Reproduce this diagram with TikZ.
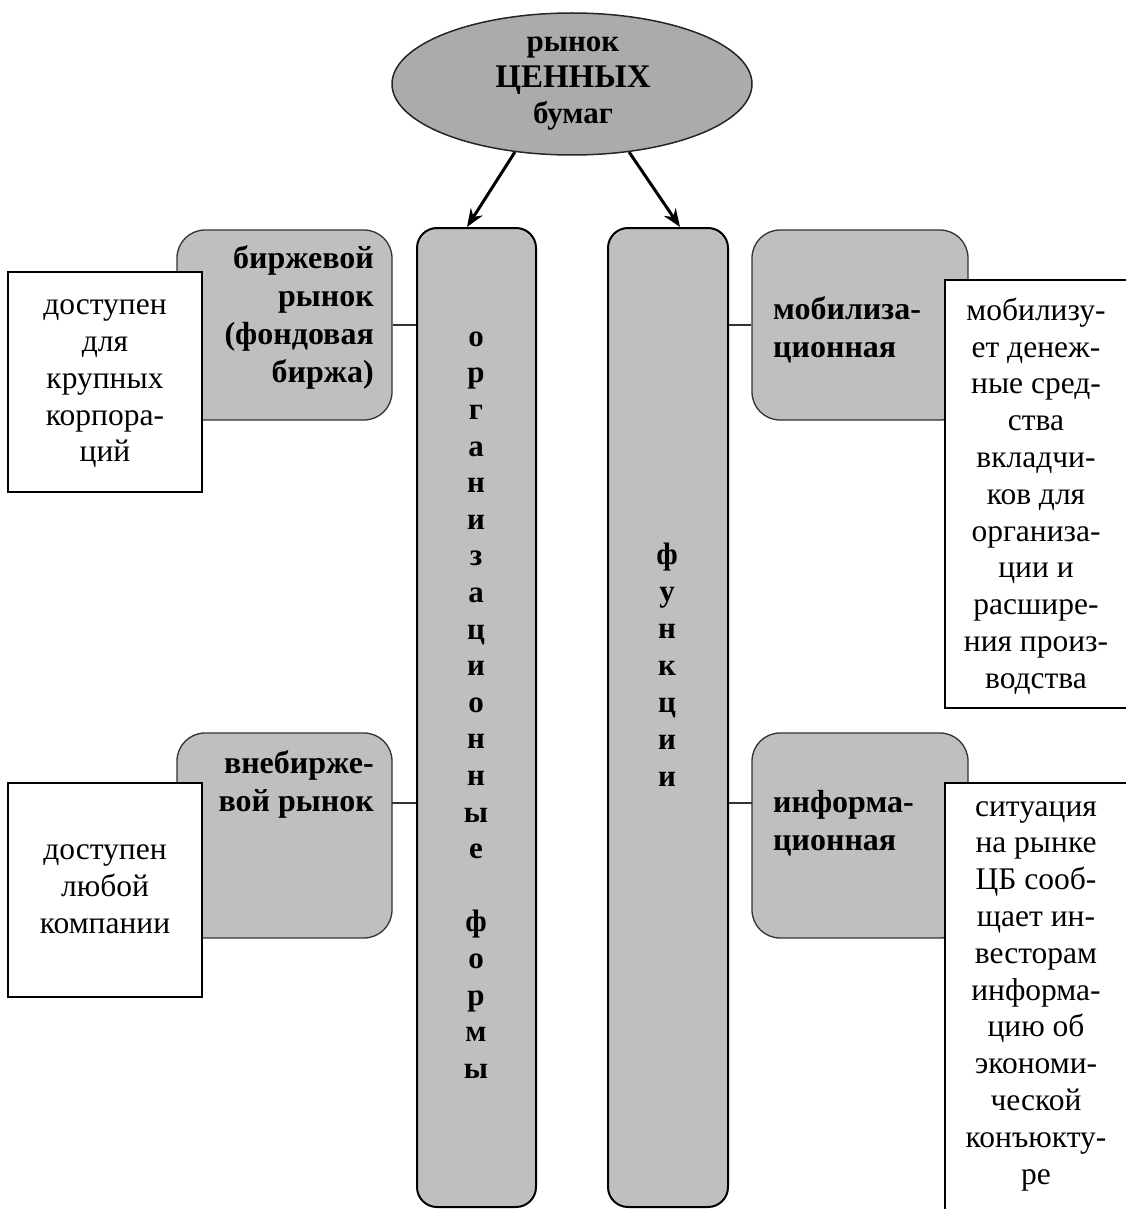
\documentclass[tikz,border=0pt]{standalone}
\usepackage{fontspec}
\setmainfont{Liberation Serif}
\usetikzlibrary{shapes.geometric,arrows.meta}
\begin{document}
\begin{tikzpicture}[x=1pt,y=-1pt,
  grayb/.style={draw=black!80, line width=1.3pt, fill=gray!50, rounded corners=28pt, inner sep=0pt},
  colb/.style={draw=black, line width=2pt, fill=gray!50, rounded corners=20pt, inner sep=0pt},
  whiteb/.style={draw=black, line width=2pt, fill=white, inner sep=0pt},
  txt/.style={font=\fontsize{31.5}{36.8}\selectfont, inner sep=0pt, align=center},
  btxt/.style={font=\fontsize{32}{38}\selectfont\bfseries, inner sep=0pt},
  conn/.style={line width=1.3pt, draw=black!80},
  arr/.style={line width=3pt, -{Stealth[length=18pt,width=14pt]}}
]
\useasboundingbox (0,0) rectangle (1126,1209);
\fill[white] (0,0) rectangle (1126,1209);

% ellipse
\node[ellipse, draw=black!85, line width=1.5pt, fill=black!33, minimum width=360pt, minimum height=142pt, inner sep=0pt] (ell) at (572,84) {};
\node[inner sep=0pt, align=center, font=\fontsize{31}{36}\selectfont\bfseries] (tell) at (573,84) {рынок\\{\fontsize{33}{36}\selectfont ЦЕННЫХ}\\бумаг};

% tall columns
\node[colb, minimum width=119pt, minimum height=979pt] (org) at (476.5,717.5) {};
\node[colb, minimum width=120pt, minimum height=979pt] (fun) at (668,717.5) {};

% gray boxes
\node[grayb, minimum width=215pt, minimum height=190pt] (b1) at (284.5,325) {};
\node[grayb, minimum width=215pt, minimum height=205pt] (b2) at (284.5,835.5) {};
\node[grayb, minimum width=216pt, minimum height=190pt] (b3) at (860,325) {};
\node[grayb, minimum width=216pt, minimum height=205pt] (b4) at (860,835.5) {};

% white boxes
\node[whiteb, minimum width=194pt, minimum height=220pt] (w1) at (105,382) {};
\node[whiteb, minimum width=194pt, minimum height=214pt] (w2) at (105,890) {};
\node[whiteb, minimum width=194pt, minimum height=428pt] (w3) at (1042,494) {};
\node[whiteb, minimum width=194pt, minimum height=434pt] (w4) at (1042,1000) {};

% connectors
\coordinate (k2) at (392,803);
\coordinate (k4) at (752,803);
\draw[conn] (b1.east) -- (org.west |- b1.east);
\draw[conn] (k2) -- (org.west |- k2);
\draw[conn] (fun.east |- b3.west) -- (b3.west);
\draw[conn] (fun.east |- k4) -- (k4);

% arrows
\draw[arr] (ell.230) -- ([xshift=-9.5pt]org.north);
\draw[arr] (ell.310) -- ([xshift=12pt]fun.north);

% texts in gray boxes
\node[btxt, align=right, anchor=east] (tb1) at (374,317) {биржевой\\рынок\\(фондовая\\биржа)};
\node[btxt, align=right, anchor=east] (tb2) at (374,784) {внебирже-\\вой рынок};
\node[btxt, align=left, anchor=west] (tb3) at (773,330) {мобилиза-\\ционная};
\node[btxt, align=left, anchor=west] (tb4) at (773,823) {информа-\\ционная};

% texts in white boxes
\node[txt] (tw1) at (105,384) {доступен\\для\\крупных\\корпора-\\ций};
\node[txt] (tw2) at (105,889) {доступен\\любой\\компании};
\node[txt] (tw3) at (1036,496) {мобилизу-\\ет денеж-\\ные сред-\\ства\\вкладчи-\\ков для\\организа-\\ции и\\расшире-\\ния произ-\\водства};
\node[txt] (tw4) at (1036,996) {ситуация\\на рынке\\ЦБ сооб-\\щает ин-\\весторам\\информа-\\цию об\\экономи-\\ческой\\конъюкту-\\ре};

% column texts
\node[inner sep=0pt, align=center, font=\fontsize{31}{36.6}\selectfont\bfseries] (torg) at (476,705) {о\\р\\г\\а\\н\\и\\з\\а\\ц\\и\\о\\н\\н\\ы\\е\\\mbox{}\\ф\\о\\р\\м\\ы};
\node[inner sep=0pt, align=center, font=\fontsize{31}{37}\selectfont\bfseries] (tfun) at (667,665) {ф\\у\\н\\к\\ц\\и\\и};
\end{tikzpicture}
\end{document}
